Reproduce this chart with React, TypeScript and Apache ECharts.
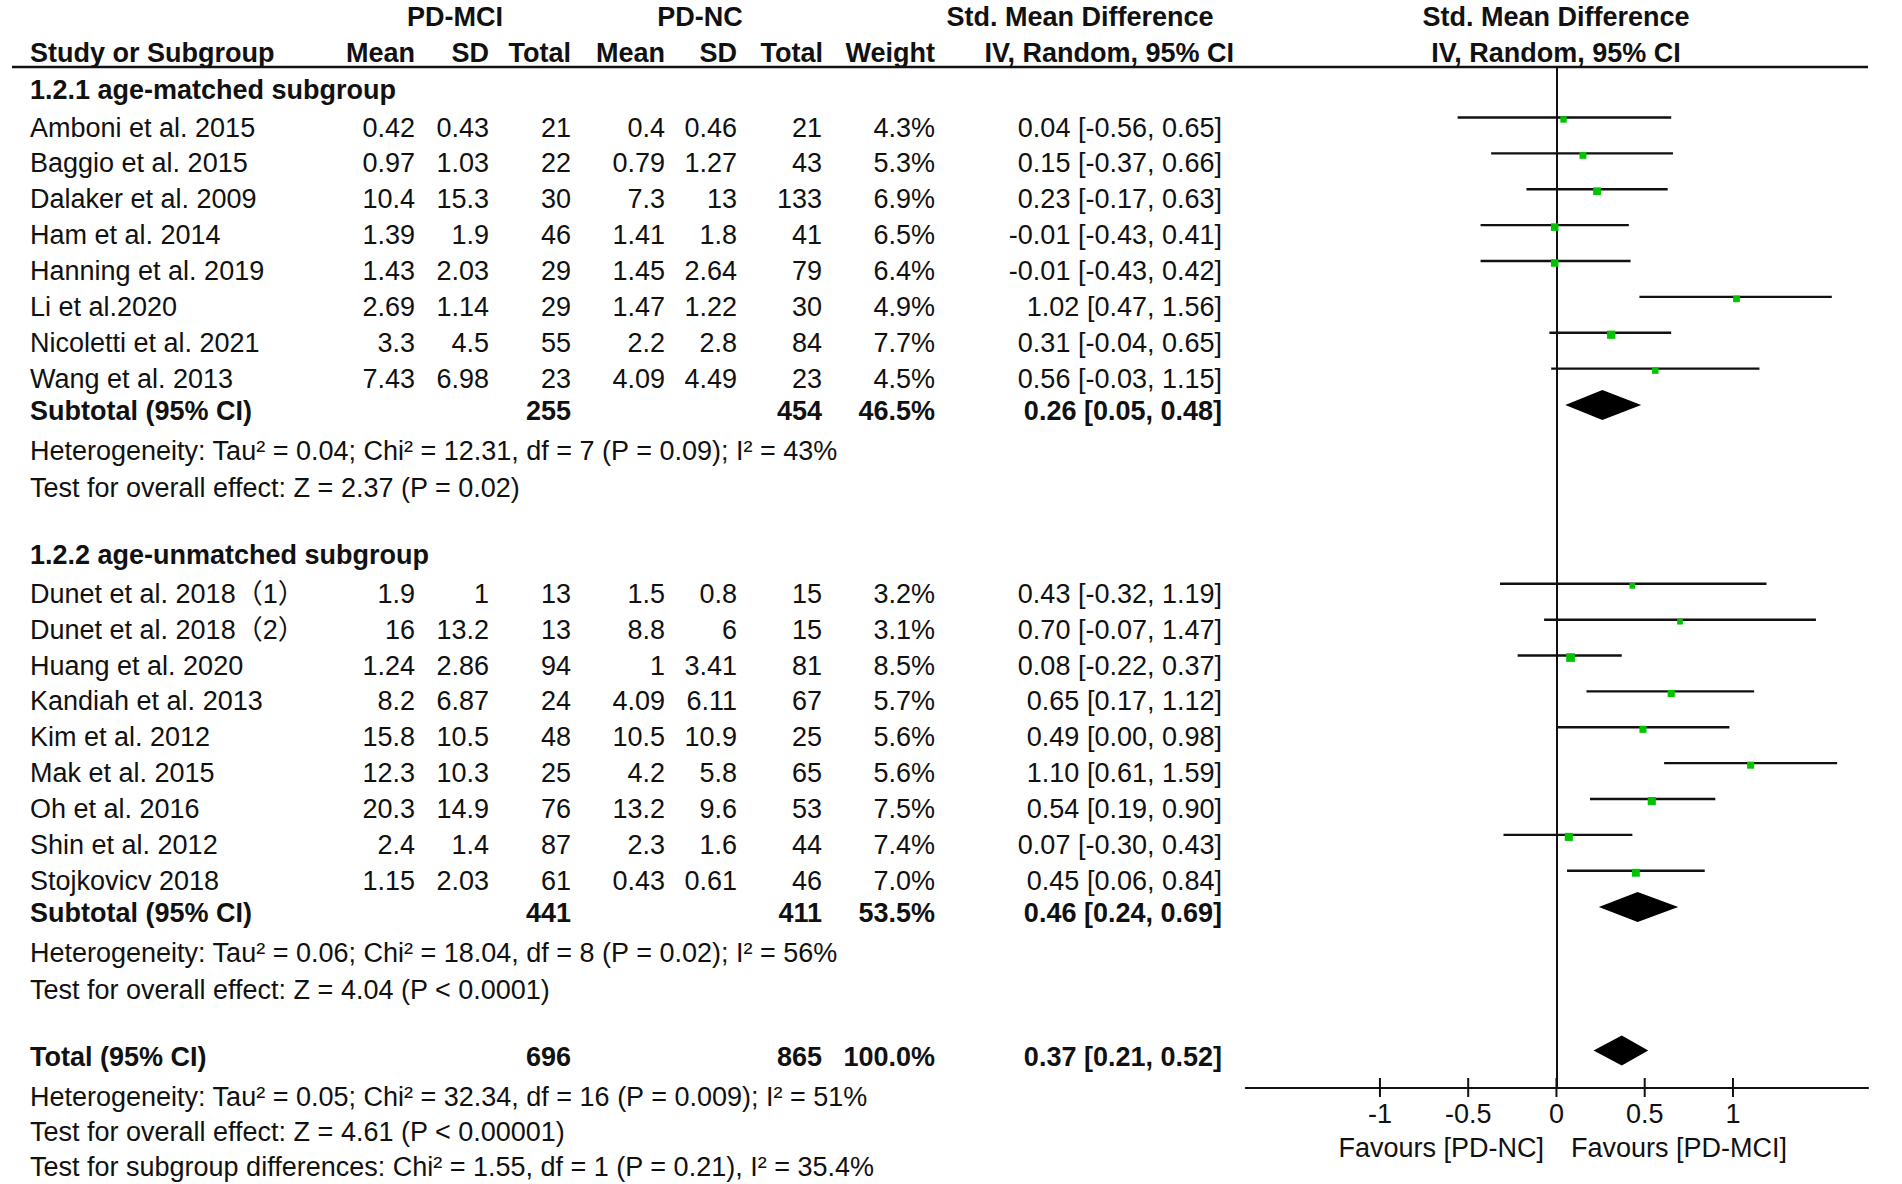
import React, { useEffect, useRef } from "react";
import * as echarts from "echarts";

// ---------- DATA ----------
const g1Names = ["Amboni et al. 2015", "Baggio et al. 2015", "Dalaker et al. 2009", "Ham et al. 2014", "Hanning et al. 2019", "Li et al.2020", "Nicoletti et al. 2021", "Wang et al. 2013"];
const g1MciMean = [0.42, 0.97, 10.4, 1.39, 1.43, 2.69, 3.3, 7.43];
const g1MciSd = [0.43, 1.03, 15.3, 1.9, 2.03, 1.14, 4.5, 6.98];
const g1MciN = [21, 22, 30, 46, 29, 29, 55, 23];
const g1NcMean = [0.4, 0.79, 7.3, 1.41, 1.45, 1.47, 2.2, 4.09];
const g1NcSd = [0.46, 1.27, 13, 1.8, 2.64, 1.22, 2.8, 4.49];
const g1NcN = [21, 43, 133, 41, 79, 30, 84, 23];
const g1Weight = [4.3, 5.3, 6.9, 6.5, 6.4, 4.9, 7.7, 4.5];
const g1Smd = [0.04, 0.15, 0.23, -0.01, -0.01, 1.02, 0.31, 0.56];
const g1Lo = [-0.56, -0.37, -0.17, -0.43, -0.43, 0.47, -0.04, -0.03];
const g1Hi = [0.65, 0.66, 0.63, 0.41, 0.42, 1.56, 0.65, 1.15];

const g2Names = ["Dunet et al. 2018（1）", "Dunet et al. 2018（2）", "Huang et al. 2020", "Kandiah et al. 2013", "Kim et al. 2012", "Mak et al. 2015", "Oh et al. 2016", "Shin et al. 2012", "Stojkovicv 2018"];
const g2MciMean = [1.9, 16, 1.24, 8.2, 15.8, 12.3, 20.3, 2.4, 1.15];
const g2MciSd = [1, 13.2, 2.86, 6.87, 10.5, 10.3, 14.9, 1.4, 2.03];
const g2MciN = [13, 13, 94, 24, 48, 25, 76, 87, 61];
const g2NcMean = [1.5, 8.8, 1, 4.09, 10.5, 4.2, 13.2, 2.3, 0.43];
const g2NcSd = [0.8, 6, 3.41, 6.11, 10.9, 5.8, 9.6, 1.6, 0.61];
const g2NcN = [15, 15, 81, 67, 25, 65, 53, 44, 46];
const g2Weight = [3.2, 3.1, 8.5, 5.7, 5.6, 5.6, 7.5, 7.4, 7.0];
const g2Smd = [0.43, 0.7, 0.08, 0.65, 0.49, 1.1, 0.54, 0.07, 0.45];
const g2Lo = [-0.32, -0.07, -0.22, 0.17, 0.0, 0.61, 0.19, -0.3, 0.06];
const g2Hi = [1.19, 1.47, 0.37, 1.12, 0.98, 1.59, 0.9, 0.43, 0.84];

const groupTitles = ["1.2.1 age-matched subgroup", "1.2.2 age-unmatched subgroup"];
const subMciN = [255, 441];
const subNcN = [454, 411];
const subWeight = [46.5, 53.5];
const subSmd = [0.26, 0.46];
const subLo = [0.05, 0.24];
const subHi = [0.48, 0.69];
const subHet = [
  "Heterogeneity: Tau² = 0.04; Chi² = 12.31, df = 7 (P = 0.09); I² = 43%",
  "Heterogeneity: Tau² = 0.06; Chi² = 18.04, df = 8 (P = 0.02); I² = 56%",
];
const subTest = ["Test for overall effect: Z = 2.37 (P = 0.02)", "Test for overall effect: Z = 4.04 (P < 0.0001)"];

const totalMciN = 696;
const totalNcN = 865;
const totalWeight = 100.0;
const totalSmd = 0.37;
const totalLo = 0.21;
const totalHi = 0.52;
const totalNotes = [
  "Heterogeneity: Tau² = 0.05; Chi² = 32.34, df = 16 (P = 0.009); I² = 51%",
  "Test for overall effect: Z = 4.61 (P < 0.00001)",
  "Test for subgroup differences: Chi² = 1.55, df = 1 (P = 0.21), I² = 35.4%",
];

const tickValues = [-1, -0.5, 0, 0.5, 1];
const favoursLabels = ["Favours [PD-NC]", "Favours [PD-MCI]"];

// ---------- LAYOUT ----------
const FONT = "'Liberation Sans', Arial, 'Noto Sans CJK SC', sans-serif";
const FS = 27;
const INK = "#111";
const TEXT_DY = 10;
const X_NAME = 30;
const X_MCI_MEAN = 415;
const X_MCI_SD = 489;
const X_MCI_N = 571;
const X_NC_MEAN = 665;
const X_NC_SD = 737;
const X_NC_N = 822;
const X_W = 935;
const X_CI = 1222;
const SLOT_G1_HEAD = -1.05;
const SLOT_G1 = 0;
const SLOT_SUB1 = 7.9;
const SLOT_HET1 = 9.02;
const SLOT_TEST1 = 10.04;
const SLOT_G2_HEAD = 11.93;
const SLOT_G2 = 13;
const SLOT_SUB2 = 21.9;
const SLOT_HET2 = 23.02;
const SLOT_TEST2 = 24.04;
const SLOT_TOTAL = 25.9;
const SLOT_NOTES = [27.02, 28.0, 28.98];
const Y_MIN = -1.408;
const Y_MAX = 27.056;

type Cell = { t: string; x: number; align: "left" | "right" | "center"; bold?: boolean };
type Row = { slot: number; cells: Cell[] };

const fmt2 = (v: number) => v.toFixed(2);
const ciText = (m: number, l: number, h: number) => `${fmt2(m)} [${fmt2(l)}, ${fmt2(h)}]`;

function studyRow(slot: number, name: string, a: number, b: number, c: number, d: number, e: number, f: number, w: number, m: number, l: number, h: number): Row {
  return {
    slot,
    cells: [
      { t: name, x: X_NAME, align: "left" },
      { t: String(a), x: X_MCI_MEAN, align: "right" },
      { t: String(b), x: X_MCI_SD, align: "right" },
      { t: String(c), x: X_MCI_N, align: "right" },
      { t: String(d), x: X_NC_MEAN, align: "right" },
      { t: String(e), x: X_NC_SD, align: "right" },
      { t: String(f), x: X_NC_N, align: "right" },
      { t: w.toFixed(1) + "%", x: X_W, align: "right" },
      { t: ciText(m, l, h), x: X_CI, align: "right" },
    ],
  };
}
function sumRow(slot: number, name: string, n1: number, n2: number, w: number, m: number, l: number, h: number): Row {
  return {
    slot,
    cells: [
      { t: name, x: X_NAME, align: "left", bold: true },
      { t: String(n1), x: X_MCI_N, align: "right", bold: true },
      { t: String(n2), x: X_NC_N, align: "right", bold: true },
      { t: w.toFixed(1) + "%", x: X_W, align: "right", bold: true },
      { t: ciText(m, l, h), x: X_CI, align: "right", bold: true },
    ],
  };
}
const noteRow = (slot: number, t: string, bold = false): Row => ({ slot, cells: [{ t, x: X_NAME, align: "left", bold }] });

const rows: Row[] = [];
rows.push(noteRow(SLOT_G1_HEAD, groupTitles[0], true));
g1Names.forEach((n, i) =>
  rows.push(studyRow(SLOT_G1 + i, n, g1MciMean[i], g1MciSd[i], g1MciN[i], g1NcMean[i], g1NcSd[i], g1NcN[i], g1Weight[i], g1Smd[i], g1Lo[i], g1Hi[i]))
);
rows.push(sumRow(SLOT_SUB1, "Subtotal (95% CI)", subMciN[0], subNcN[0], subWeight[0], subSmd[0], subLo[0], subHi[0]));
rows.push(noteRow(SLOT_HET1, subHet[0]));
rows.push(noteRow(SLOT_TEST1, subTest[0]));
rows.push(noteRow(SLOT_G2_HEAD, groupTitles[1], true));
g2Names.forEach((n, i) =>
  rows.push(studyRow(SLOT_G2 + i, n, g2MciMean[i], g2MciSd[i], g2MciN[i], g2NcMean[i], g2NcSd[i], g2NcN[i], g2Weight[i], g2Smd[i], g2Lo[i], g2Hi[i]))
);
rows.push(sumRow(SLOT_SUB2, "Subtotal (95% CI)", subMciN[1], subNcN[1], subWeight[1], subSmd[1], subLo[1], subHi[1]));
rows.push(noteRow(SLOT_HET2, subHet[1]));
rows.push(noteRow(SLOT_TEST2, subTest[1]));
rows.push(sumRow(SLOT_TOTAL, "Total (95% CI)", totalMciN, totalNcN, totalWeight, totalSmd, totalLo, totalHi));
totalNotes.forEach((t, i) => rows.push(noteRow(SLOT_NOTES[i], t)));

const ciData: number[][] = [];
g1Names.forEach((_, i) => ciData.push([g1Lo[i], g1Hi[i], g1Smd[i], SLOT_G1 + i, g1Weight[i]]));
g2Names.forEach((_, i) => ciData.push([g2Lo[i], g2Hi[i], g2Smd[i], SLOT_G2 + i, g2Weight[i]]));

const diamondData: number[][] = [
  [subLo[0], subHi[0], subSmd[0], SLOT_SUB1],
  [subLo[1], subHi[1], subSmd[1], SLOT_SUB2],
  [totalLo, totalHi, totalSmd, SLOT_TOTAL],
];

const txt = (text: string, x: number, y: number, align: string, bold = false) => ({
  type: "text",
  x,
  y,
  style: { text, fill: INK, fontSize: FS, fontFamily: FONT, fontWeight: bold ? "bold" : "normal", align, verticalAlign: "middle" },
});

export default function App() {
  const ref = useRef<HTMLDivElement>(null);
  useEffect(() => {
    const chart = echarts.init(ref.current!, null, { renderer: "svg" });
    const option: any = {
      animation: false,
      backgroundColor: "#fff",
      grid: { left: 1245.8, right: 34, top: 67, bottom: 96, containLabel: false },
      xAxis: {
        type: "value",
        min: -1.76,
        max: 1.765,
        splitLine: { show: false },
        axisLine: { show: true, onZero: false, lineStyle: { color: INK, width: 2.2 } },
        axisTick: { show: false },
        axisLabel: { customValues: tickValues, color: INK, fontSize: FS, fontFamily: FONT, margin: 12 },
      },
      yAxis: {
        type: "value",
        inverse: true,
        min: Y_MIN,
        max: Y_MAX,
        splitLine: { show: false },
        axisTick: { show: false },
        axisLabel: { show: false },
        axisLine: { show: true, onZero: true, lineStyle: { color: INK, width: 2 } },
      },
      graphic: [
        { type: "line", shape: { x1: 12, y1: 67, x2: 1868, y2: 67 }, style: { stroke: INK, lineWidth: 2.5 } },
        txt("PD-MCI", 455, 17, "center", true),
        txt("PD-NC", 700, 17, "center", true),
        txt("Std. Mean Difference", 1080, 17, "center", true),
        txt("Std. Mean Difference", 1556, 17, "center", true),
        txt("Study or Subgroup", X_NAME, 53, "left", true),
        txt("Mean", X_MCI_MEAN, 53, "right", true),
        txt("SD", X_MCI_SD, 53, "right", true),
        txt("Total", X_MCI_N, 53, "right", true),
        txt("Mean", X_NC_MEAN, 53, "right", true),
        txt("SD", X_NC_SD, 53, "right", true),
        txt("Total", X_NC_N + 1, 53, "right", true),
        txt("Weight", X_W, 53, "right", true),
        txt("IV, Random, 95% CI", 1234, 53, "right", true),
        txt("IV, Random, 95% CI", 1556, 53, "center", true),
        txt(favoursLabels[0], 1544, 1148, "right"),
        txt(favoursLabels[1], 1571, 1148, "left"),
      ],
      series: [
        {
          type: "custom",
          name: "table",
          clip: false,
          silent: true,
          encode: { x: 0, y: 1 },
          data: rows.map((r, i) => [0, r.slot, i]),
          renderItem: (params: any, api: any) => {
            const row = rows[params.dataIndex];
            const y = api.coord([0, row.slot])[1] + TEXT_DY;
            return {
              type: "group",
              children: row.cells.map((c) => txt(c.t, c.x, y, c.align, !!c.bold)),
            };
          },
        },
        {
          type: "custom",
          name: "ci",
          clip: false,
          silent: true,
          encode: { x: [0, 1, 2], y: 3 },
          data: ciData,
          renderItem: (params: any, api: any) => {
            const lo = api.value(0), hi = api.value(1), m = api.value(2), s = api.value(3), w = api.value(4);
            const a = api.coord([lo, s]);
            const b = api.coord([hi, s]);
            const c = api.coord([m, s]);
            const size = 4 + w * 0.55;
            return {
              type: "group",
              children: [
                { type: "line", shape: { x1: a[0], y1: a[1], x2: b[0], y2: b[1] }, style: { stroke: INK, lineWidth: 2.4 } },
                { type: "rect", shape: { x: c[0] - size / 2, y: c[1] - size / 2 + 2, width: size, height: size }, style: { fill: "#00C400" } },
              ],
            };
          },
        },
        {
          type: "custom",
          name: "diamond",
          clip: false,
          silent: true,
          encode: { x: [0, 1, 2], y: 3 },
          data: diamondData,
          renderItem: (params: any, api: any) => {
            const lo = api.value(0), hi = api.value(1), m = api.value(2), s = api.value(3);
            const a = api.coord([lo, s]);
            const b = api.coord([hi, s]);
            const c = api.coord([m, s]);
            const y = c[1] + 4;
            return {
              type: "polygon",
              shape: { points: [[a[0], y], [c[0], y - 15], [b[0], y], [c[0], y + 15]] },
              style: { fill: "#000" },
            };
          },
        },
        {
          type: "custom",
          name: "ticks",
          clip: false,
          silent: true,
          encode: { x: 0 },
          data: tickValues.map((v) => [v, Y_MAX]),
          renderItem: (params: any, api: any) => {
            const p = api.coord([api.value(0), api.value(1)]);
            return { type: "line", shape: { x1: p[0], y1: p[1] - 10, x2: p[0], y2: p[1] + 9 }, style: { stroke: INK, lineWidth: 2 } };
          },
        },
      ],
    };
    chart.setOption(option);
    return () => chart.dispose();
  }, []);
  return <div ref={ref} style={{ position: "fixed", left: 0, top: 0, width: 1902, height: 1184, background: "#fff" }} />;
}
